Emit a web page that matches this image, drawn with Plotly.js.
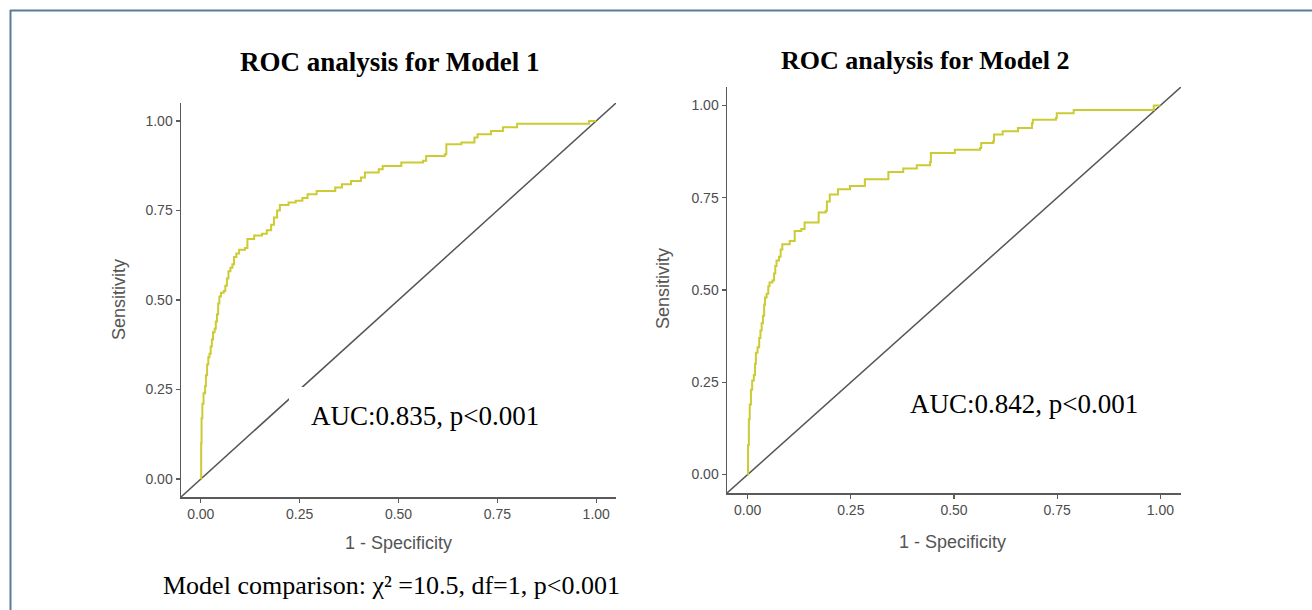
<!DOCTYPE html>
<html>
<head>
<meta charset="utf-8">
<script src="https://cdn.plot.ly/plotly-3.0.1.min.js"></script>
<style>
html,body{margin:0;padding:0;background:#fff;}
#chart{width:1312px;height:610px;}
</style>
</head>
<body>
<div id="chart"></div>
<script>
// ---- Data ----
const titles = ["ROC analysis for Model 1", "ROC analysis for Model 2"];
const aucLabels = ["AUC:0.835, p<0.001", "AUC:0.842, p<0.001"];
const comparisonLabel = "Model comparison: \u03c7\u00b2 =10.5, df=1, p<0.001";
const xTitle = "1 - Specificity";
const yTitle = "Sensitivity";
const tickVals = [0, 0.25, 0.5, 0.75, 1];
const tickText = ["0.00", "0.25", "0.50", "0.75", "1.00"];
const refLine = [-0.05, 1.05];

// Model 1 ROC (1 - specificity, sensitivity)
const m1_fpr = [0, 0.001, 0.002, 0.004, 0.007, 0.011, 0.013, 0.016, 0.019, 0.022, 0.025, 0.028,
  0.031, 0.035, 0.038, 0.041, 0.044, 0.047, 0.051, 0.058, 0.062, 0.066, 0.070, 0.075, 0.080,
  0.084, 0.090, 0.097, 0.112, 0.118, 0.135, 0.155, 0.167, 0.178,
  0.185, 0.193, 0.200, 0.222, 0.240, 0.257, 0.270, 0.293, 0.340, 0.357, 0.380, 0.405, 0.415,
  0.450, 0.460, 0.507, 0.562, 0.570, 0.617, 0.621, 0.659, 0.692, 0.700, 0.734, 0.764, 0.800,
  0.978, 0.982, 1.000];
const m1_tpr = [0, 0.10, 0.17, 0.21, 0.24, 0.26, 0.29, 0.32, 0.34, 0.35, 0.37, 0.39,
  0.41, 0.42, 0.44, 0.46, 0.49, 0.51, 0.52, 0.525, 0.54, 0.56, 0.58, 0.59, 0.60,
  0.62, 0.63, 0.64, 0.645, 0.67, 0.68, 0.685, 0.695, 0.71,
  0.73, 0.75, 0.765, 0.772, 0.777, 0.785, 0.795, 0.804, 0.814, 0.823, 0.832, 0.842, 0.856,
  0.865, 0.874, 0.884, 0.889, 0.902, 0.907, 0.935, 0.94, 0.954, 0.963, 0.972, 0.982, 0.992,
  0.992, 1.0, 1.0];

// Model 2 ROC
const m2_fpr = [0, 0.001, 0.003, 0.005, 0.008, 0.011, 0.015, 0.018, 0.020, 0.024, 0.028, 0.031,
  0.034, 0.037, 0.040, 0.042, 0.046, 0.050, 0.053, 0.060, 0.064, 0.067, 0.070, 0.076, 0.080,
  0.084, 0.102, 0.114, 0.130, 0.138, 0.172, 0.189,
  0.192, 0.199, 0.219, 0.248, 0.284, 0.341, 0.377, 0.410, 0.442, 0.444, 0.502, 0.563, 0.566,
  0.595, 0.597, 0.618, 0.655, 0.689, 0.691, 0.747, 0.749, 0.790, 0.978, 0.984, 1.000];
const m2_tpr = [0, 0.08, 0.15, 0.19, 0.23, 0.255, 0.27, 0.30, 0.33, 0.345, 0.37, 0.39,
  0.41, 0.43, 0.46, 0.48, 0.49, 0.51, 0.52, 0.526, 0.545, 0.565, 0.58, 0.59, 0.61,
  0.624, 0.633, 0.66, 0.665, 0.683, 0.71, 0.714,
  0.74, 0.759, 0.773, 0.782, 0.80, 0.82, 0.829, 0.838, 0.847, 0.871, 0.88, 0.885, 0.898,
  0.903, 0.921, 0.93, 0.939, 0.952, 0.961, 0.966, 0.979, 0.988, 0.988, 1.0, 1.0];

// ---- Styling ----
const W = 1312, H = 610;
const curveColor = "#cccb33";
const diagColor = "#555555";
const axisColor = "#5a5a5a";
const tickFontColor = "#4d4d4d";
const serif = "'Liberation Serif', 'Times New Roman', Times, serif";
const sans = "'Liberation Sans', Arial, Helvetica, sans-serif";

function px(x){ return x / W; }
function py(y){ return 1 - y / H; }

function axisBase(){
  return {
    range: [-0.05, 1.05],
    showgrid: false,
    zeroline: false,
    showline: true,
    linecolor: axisColor,
    linewidth: 1.5,
    ticks: "outside",
    ticklen: 4,
    tickwidth: 1.3,
    tickcolor: axisColor,
    tickvals: tickVals,
    ticktext: tickText,
    tickfont: {family: sans, size: 14, color: tickFontColor},
    fixedrange: true
  };
}

const traces = [
  {x: refLine, y: refLine, xaxis: "x", yaxis: "y", mode: "lines",
   line: {color: diagColor, width: 1.5}, hoverinfo: "skip", showlegend: false},
  {x: m1_fpr, y: m1_tpr, xaxis: "x", yaxis: "y", mode: "lines",
   line: {color: curveColor, width: 2, shape: "hv"}, showlegend: false, name: "Model 1"},
  {x: refLine, y: refLine, xaxis: "x2", yaxis: "y2", mode: "lines",
   line: {color: diagColor, width: 1.5}, hoverinfo: "skip", showlegend: false},
  {x: m2_fpr, y: m2_tpr, xaxis: "x2", yaxis: "y2", mode: "lines",
   line: {color: curveColor, width: 2, shape: "hv"}, showlegend: false, name: "Model 2"}
];

const xa1 = axisBase(); xa1.domain = [px(181), px(616)]; xa1.anchor = "y";
const ya1 = axisBase(); ya1.domain = [py(497), py(103)]; ya1.anchor = "x";
const xa2 = axisBase(); xa2.domain = [px(727), px(1181)]; xa2.anchor = "y2";
const ya2 = axisBase(); ya2.domain = [py(493), py(87)]; ya2.anchor = "x2";

const ann = [
  {text: "<b>" + titles[0] + "</b>", x: px(390), y: py(62), font: {family: serif, size: 27, color: "#000"}},
  {text: "<b>" + titles[1] + "</b>", x: px(925), y: py(60), font: {family: serif, size: 26, color: "#000"}},
  {text: aucLabels[0], x: px(425), y: py(416), font: {family: serif, size: 27, color: "#000"}},
  {text: aucLabels[1], x: px(1024), y: py(404), font: {family: serif, size: 27, color: "#000"}},
  {text: xTitle, x: px(398), y: py(543), font: {family: sans, size: 18, color: "#555"}},
  {text: xTitle, x: px(953), y: py(542), font: {family: sans, size: 18, color: "#555"}},
  {text: yTitle, x: px(119), y: py(300), textangle: -90, font: {family: sans, size: 18, color: "#555"}},
  {text: yTitle, x: px(663), y: py(289), textangle: -90, font: {family: sans, size: 18, color: "#555"}},
  {text: comparisonLabel, x: px(391), y: py(585), font: {family: serif, size: 26, color: "#000"}}
].map(a => Object.assign({xref: "paper", yref: "paper", showarrow: false,
  xanchor: "center", yanchor: "middle"}, a));

const shapes = [
  // white label box that interrupts the reference line in panel 1
  {type: "rect", xref: "paper", yref: "paper", x0: px(289), x1: px(560), y0: py(440), y1: py(387),
   fillcolor: "#ffffff", line: {width: 0}, layer: "above"},
  // outer frame
  {type: "line", xref: "paper", yref: "paper", x0: px(10), x1: 1, y0: py(10.5), y1: py(10.5),
   line: {color: "#5a7b9c", width: 2}},
  {type: "line", xref: "paper", yref: "paper", x0: px(10.5), x1: px(10.5), y0: 0, y1: py(10),
   line: {color: "#5a7b9c", width: 2}}
];

const layout = {
  width: W, height: H,
  margin: {l: 0, r: 0, t: 0, b: 0},
  paper_bgcolor: "#ffffff",
  plot_bgcolor: "#ffffff",
  showlegend: false,
  xaxis: xa1, yaxis: ya1, xaxis2: xa2, yaxis2: ya2,
  annotations: ann,
  shapes: shapes
};

Plotly.newPlot("chart", traces, layout, {displayModeBar: false, staticPlot: true});
</script>
</body>
</html>
